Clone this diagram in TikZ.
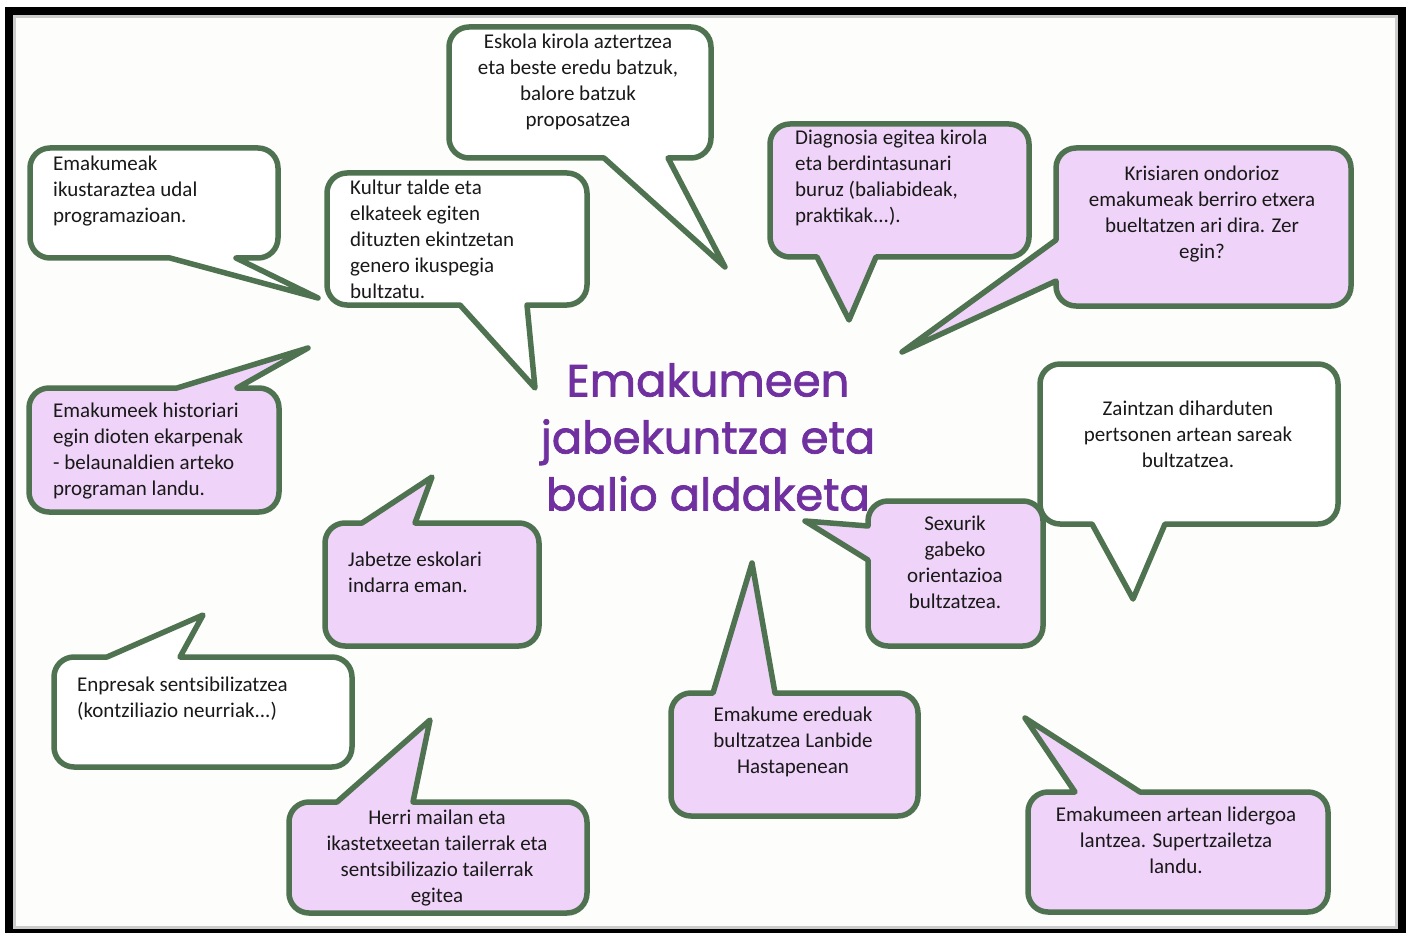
\documentclass[tikz,border=0pt]{standalone}
\usepackage{fontspec}
\setmainfont{Carlito}
\newfontfamily\titlefont{Poppins}[FakeBold=1.6]
\definecolor{bgreen}{HTML}{4F7350}
\definecolor{lav}{HTML}{EFD3F8}
\definecolor{ttl}{HTML}{7030A0}
\definecolor{inner}{HTML}{FDFDFC}
\newcommand\R{20}
% #1 style, #2 x1, #3 y1, #4 x2, #5 y2, #6 top, #7 right, #8 bottom, #9 left inserts
\newcommand\bub[9]{%
  \draw[#1] (#2+\R,#3) #6 -- (#4-\R,#3) arc[start angle=-90,end angle=0,radius=\R]
   #7 -- (#4,#5-\R) arc[start angle=0,end angle=90,radius=\R]
   #8 -- (#2+\R,#5) arc[start angle=90,end angle=180,radius=\R]
   #9 -- (#2,#3+\R) arc[start angle=180,end angle=270,radius=\R] -- cycle;}
\begin{document}
\begin{tikzpicture}[x=1pt,y=-1pt,
  bw/.style={draw=bgreen,line width=5.5pt,line join=round,fill=white},
  bl/.style={bw,fill=lav},
  txt/.style={font=\fontsize{21}{26}\selectfont,text=black!90,inner sep=0pt},
  tl/.style={txt,align=left,anchor=west},
  tc/.style={txt,align=center,anchor=center}]
\useasboundingbox (0,0) rectangle (1407,933);
\fill[white] (0,0) rectangle (1407,933);
\fill[black] (5,7) rectangle (1406,933);
\fill[gray!40] (13,15) rectangle (1398,929);
\fill[inner] (16,18) rectangle (1395,926);

% bubbles
\bub{bw}{30}{148}{278}{258}{}{}{-- (236,258) -- (318,298) -- (170,258)}{}
\bub{bw}{327}{173}{587}{305}{}{}{-- (527,305) -- (535,388) -- (460,305)}{}
\bub{bw}{449}{27}{711}{158}{}{}{-- (668,158) -- (725,267) -- (604,158)}{}
\bub{bl}{770}{124}{1029}{257}{}{}{-- (876,257) -- (849,320) -- (817,257)}{}
\bub{bl}{1056}{148}{1351}{306}{}{}{}{-- (1056,281) -- (902,352) -- (1056,240)}
\bub{bw}{1040}{364}{1338}{524}{}{}{-- (1165,524) -- (1133,599) -- (1092,524)}{}
\bub{bl}{868}{501}{1043}{646}{}{}{}{-- (868,560) -- (805,521) -- (868,526)}
\bub{bl}{671}{693}{918}{816}{-- (713,693) -- (752,563) -- (775,693)}{}{}{}
\bub{bl}{1028}{792}{1328}{912}{-- (1075,792) -- (1025,718) -- (1140,792)}{}{}{}
\bub{bw}{54}{657}{352}{767}{-- (107,657) -- (203,615) -- (180,657)}{}{}{}
\bub{bl}{289}{802}{587}{913}{-- (337,802) -- (430,720) -- (413,802)}{}{}{}
\bub{bl}{325}{523}{539}{646}{-- (362,523) -- (432,477) -- (415,523)}{}{}{}
\bub{bl}{29}{388}{279}{512}{-- (177,388) -- (308,348) -- (237,388)}{}{}{}

% texts
\node[tl] (t1) at (53,191) {Emakumeak\\ikustaraztea udal\\programazioan.};
\node[tl] (t2) at (350,239.5) {Kultur talde eta\\elkateek egiten\\dituzten ekintzetan\\genero ikuspegia\\bultzatu.};
\node[tc] (t3) at (578,82) {Eskola kirola aztertzea\\eta beste eredu batzuk,\\balore batzuk\\proposatzea};
\node[tl] (t4) at (795,178) {Diagnosia egitea kirola\\eta berdintasunari\\buruz (baliabideak,\\praktikak...).};
\node[tc] (t5) at (1202,214) {Krisiaren ondorioz\\emakumeak berriro etxera\\bueltatzen ari dira. Zer\\egin?};
\node[tc] (t6) at (1188,434) {Zaintzan diharduten\\pertsonen artean sareak\\bultzatzea.};
\node[tc] (t7) at (955,562) {Sexurik\\gabeko\\orientazioa\\bultzatzea.};
\node[tc] (t8) at (793,742) {Emakume ereduak\\bultzatzea Lanbide\\Hastapenean};
\node[tc] (t9) at (1176,840) {Emakumeen artean lidergoa\\lantzea. Supertzailetza\\landu.};
\node[tl] (t10) at (77,699) {Enpresak sentsibilizatzea\\(kontziliazio neurriak...)};
\node[tc] (t11) at (437,858) {Herri mailan eta\\ikastetxeetan tailerrak eta\\sentsibilizazio tailerrak\\egitea};
\node[tl] (t12) at (348,572.5) {Jabetze eskolari\\indarra eman.};
\node[tl] (t13) at (53,451.5) {Emakumeek historiari\\egin dioten ekarpenak\\- belaunaldien arteko\\programan landu.};

\node[align=center,text=ttl,inner sep=0pt,font=\titlefont\fontsize{45}{57}\selectfont] (title) at (708,437) {Emakumeen\\jabekuntza eta\\balio aldaketa};
\end{tikzpicture}
\end{document}
